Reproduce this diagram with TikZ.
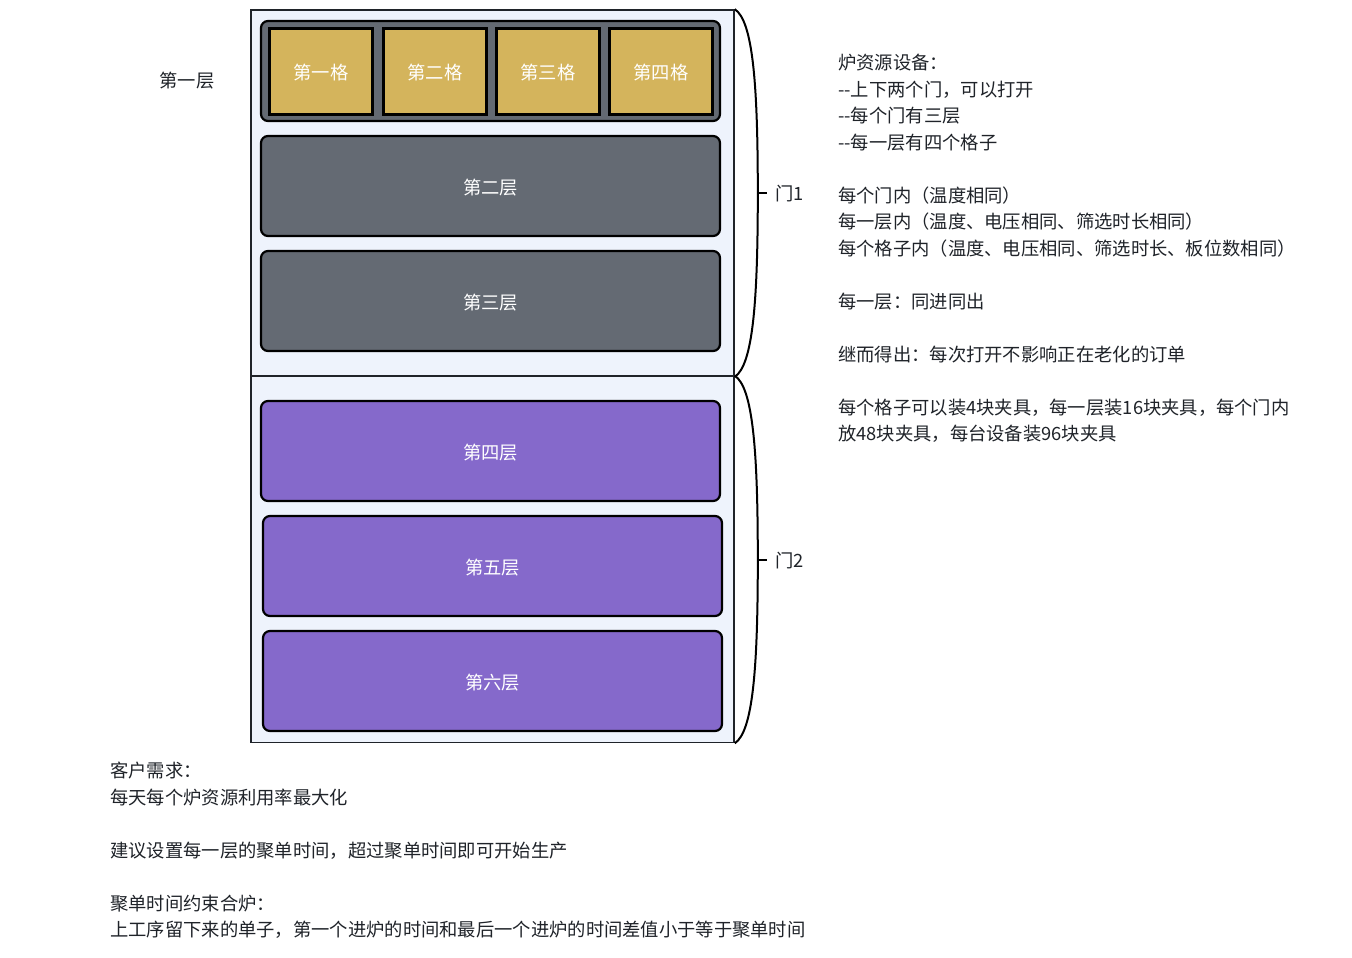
\documentclass[tikz,border=0pt]{standalone}
\usepackage{fontspec}
\setmainfont{Noto Sans CJK SC}
\usetikzlibrary{calc}
\definecolor{doorblue}{HTML}{EEF3FC}
\definecolor{slate}{HTML}{646A73}
\definecolor{gold}{HTML}{D4B45C}
\definecolor{layerpurple}{HTML}{8569CB}
\definecolor{inkgray}{HTML}{1F2329}

\begin{document}
\begin{tikzpicture}[x=1pt, y=-1pt,
  door/.style={draw=inkgray, line width=1.6pt, fill=doorblue, minimum width=483pt, minimum height=366pt, inner sep=0pt},
  layer/.style={draw=black, line width=2.2pt, rounded corners=7pt, minimum width=459pt, minimum height=100pt, inner sep=0pt, text=white, text height=18pt, text depth=2pt, font=\fontsize{18.3}{22}\selectfont},
  cell/.style={draw=black, line width=2.5pt, fill=gold, minimum width=103pt, minimum height=86pt, inner sep=0pt, text=white, text height=18pt, text depth=2pt, font=\fontsize{18.3}{22}\selectfont},
  brace/.style={draw=black, line width=2pt},
  note/.style={align=left, inner sep=0pt, text=inkgray, font=\fontsize{18.3}{26.5}\selectfont}]
\useasboundingbox[fill=white] (0,0) rectangle (1352,958);
% two doors
\node[door] (D1) at (492.5,193) {};
\node[door] (D2) at (492.5,559.5) {};
% first layer with its four cells
\node[layer, fill=slate] (row1) at (490.5,71) {};
\foreach \i/\x/\t in {1/321/第一格, 2/435/第二格, 3/548/第三格, 4/661/第四格}
  \node[cell] (c\i) at (\x,71.5) {\t};
\node[layer, fill=slate] (L2) at (490.5,186) {第二层};
\node[layer, fill=slate] (L3) at (490.5,301) {第三层};
\node[layer, fill=layerpurple] (L4) at (490.5,451) {第四层};
\node[layer, fill=layerpurple] (L5) at (492.5,566) {第五层};
\node[layer, fill=layerpurple] (L6) at (492.5,681) {第六层};
\node[note] (lvl1) at (187,81) {第一层};
% braces for the doors
\coordinate (t1) at ($(D1.east)+(23,0)$);
\coordinate (t2) at ($(D2.east)+(23,0)$);
\draw[brace] (D1.north east) .. controls +(18,12) and +(0,-110) .. (t1) .. controls +(0,110) and +(18,-12) .. (D1.south east);
\draw[brace] (D2.north east) .. controls +(18,12) and +(0,-110) .. (t2) .. controls +(0,110) and +(18,-12) .. (D2.south east);
\node[note, anchor=west] (m1) at ($(t1)+(17,1)$) {门1};
\node[note, anchor=west] (m2) at ($(t2)+(17,1)$) {门2};
\draw[brace, shorten >=8pt] (t1) -- (t1 -| m1.west);
\draw[brace, shorten >=8pt] (t2) -- (t2 -| m2.west);
% notes
\node[note, anchor=north west] (spec) at (838,54) {炉资源设备：\\-{}-上下两个门，可以打开\\-{}-每个门有三层\\-{}-每一层有四个格子\\[26.5pt]
每个门内（温度相同）\\每一层内（温度、电压相同、筛选时长相同）\\每个格子内（温度、电压相同、筛选时长、板位数相同）\\[26.5pt]
每一层：同进同出\\[26.5pt]
继而得出：每次打开不影响正在老化的订单\\[26.5pt]
每个格子可以装4块夹具，每一层装16块夹具，每个门内\\放48块夹具，每台设备装96块夹具};
\node[note, anchor=north west] (need) at (110,762) {客户需求：\\每天每个炉资源利用率最大化\\[26.5pt]
建议设置每一层的聚单时间，超过聚单时间即可开始生产\\[26.5pt]
聚单时间约束合炉：\\上工序留下来的单子，第一个进炉的时间和最后一个进炉的时间差值小于等于聚单时间};
\end{tikzpicture}
\end{document}
